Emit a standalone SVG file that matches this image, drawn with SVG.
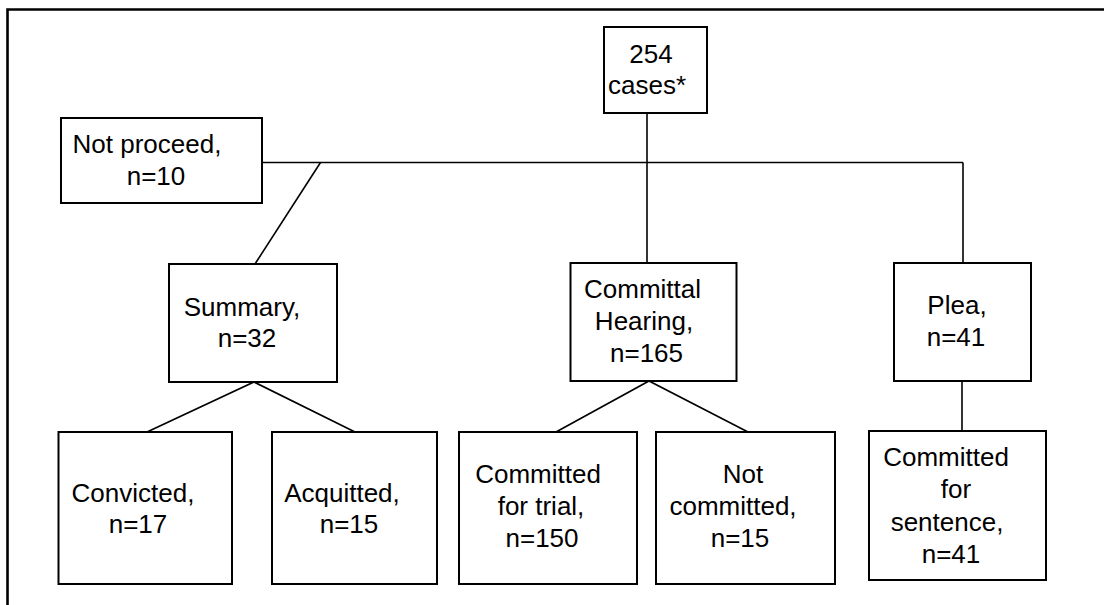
<svg xmlns="http://www.w3.org/2000/svg" width="1104" height="605" viewBox="0 0 1104 605">
<style>
.box{fill:#fff;stroke:#000;stroke-width:2}
.ln{fill:none;stroke:#000;stroke-width:1.6}
.frame{fill:none;stroke:#000;stroke-width:2.6}
text{font-family:"Liberation Sans",Arial,sans-serif;font-size:26px;fill:#000;text-anchor:middle}
</style>
<rect width="1104" height="605" fill="#fff"/>
<path class="frame" d="M7.5 605 V9.5 H1104"/>
<g id="connectors">
<line class="ln" x1="647" y1="113" x2="647" y2="263"/>
<line class="ln" x1="262" y1="162.5" x2="963" y2="162.5"/>
<line class="ln" x1="963" y1="162.5" x2="963" y2="263"/>
<line class="ln" x1="320.5" y1="162.5" x2="255" y2="264"/>
<polyline class="ln" points="147,432 254,382 355,432"/>
<polyline class="ln" points="556,432 649,381 748,432"/>
<line class="ln" x1="962" y1="381" x2="962" y2="431"/>
</g>
<g id="n254">
<rect class="box" x="604" y="27" width="103" height="86"/>
<text x="651" y="63">254</text>
<text x="647" y="94">cases*</text>
</g>
<g id="notproceed">
<rect class="box" x="61" y="118" width="201" height="85"/>
<text x="147" y="153">Not proceed,</text>
<text x="156" y="185">n=10</text>
</g>
<g id="summary">
<rect class="box" x="169" y="264" width="168" height="118"/>
<text x="242" y="316">Summary,</text>
<text x="247" y="347">n=32</text>
</g>
<g id="committal">
<rect class="box" x="570.5" y="263" width="166" height="118"/>
<text x="642.5" y="298">Committal</text>
<text x="644" y="330">Hearing,</text>
<text x="646.5" y="362">n=165</text>
</g>
<g id="plea">
<rect class="box" x="894" y="263" width="137" height="118"/>
<text x="957" y="314">Plea,</text>
<text x="956" y="346">n=41</text>
</g>
<g id="convicted">
<rect class="box" x="58.5" y="432" width="173.5" height="152"/>
<text x="133" y="502">Convicted,</text>
<text x="138" y="533">n=17</text>
</g>
<g id="acquitted">
<rect class="box" x="272" y="432" width="165" height="152"/>
<text x="342" y="502">Acquitted,</text>
<text x="349" y="533">n=15</text>
</g>
<g id="trial">
<rect class="box" x="459" y="432" width="178" height="152"/>
<text x="538" y="483">Committed</text>
<text x="541" y="515">for trial,</text>
<text x="542" y="547">n=150</text>
</g>
<g id="notcommitted">
<rect class="box" x="656" y="432" width="179" height="152"/>
<text x="743" y="483">Not</text>
<text x="733" y="515">committed,</text>
<text x="740" y="547">n=15</text>
</g>
<g id="sentence">
<rect class="box" x="869" y="431" width="177" height="149"/>
<text x="946" y="466">Committed</text>
<text x="956" y="498">for</text>
<text x="947" y="531">sentence,</text>
<text x="951" y="563">n=41</text>
</g>
</svg>
